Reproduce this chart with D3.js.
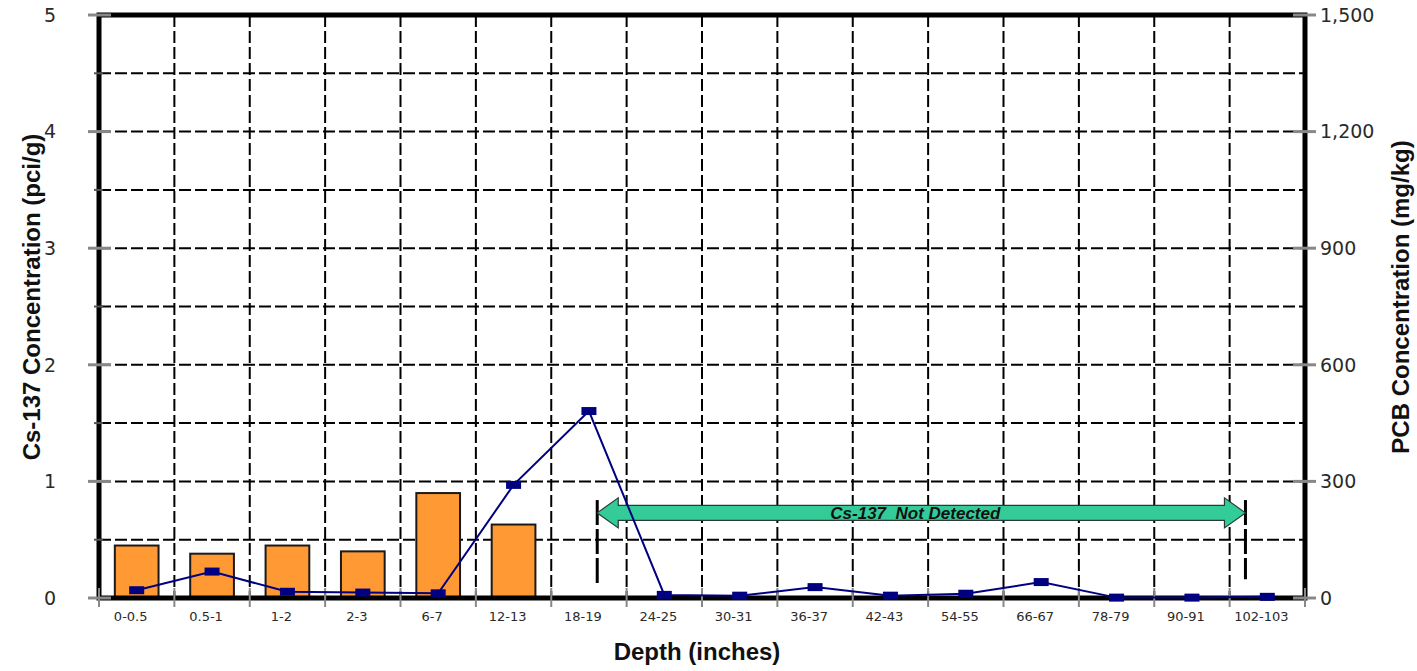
<!DOCTYPE html>
<html>
<head>
<meta charset="utf-8">
<script src="https://cdn.jsdelivr.net/npm/d3@7"></script>
<style>
  body { margin: 0; background: #fff; }
  svg { display: block; }
</style>
</head>
<body>
<svg id="chart" width="1417" height="671"></svg>
<script>
"use strict";

// depth intervals along the x axis
var depths = ["0-0.5", "0.5-1", "1-2", "2-3", "6-7", "12-13", "18-19", "24-25",
              "30-31", "36-37", "42-43", "54-55", "66-67", "78-79", "90-91", "102-103"];

// Cs-137 (pci/g), only measured down to 12-13
var cs137 = [0.45, 0.38, 0.45, 0.40, 0.90, 0.63];

// PCB (mg/kg), right axis
var pcb = [20, 68, 16, 14, 12, 291, 481, 8, 6, 28, 6, 11, 41, 1, 1, 3];

var leftTicks = [0, 1, 2, 3, 4, 5];
var rightTicks = [0, 300, 600, 900, 1200, 1500];

// "not detected" annotation, in category units (0 = left edge, 16 = right edge)
var ndStart = 6.61, ndEnd = 15.21, ndLevel = 0.73;
var ndLabel = "Cs-137  Not Detected";

var svg = d3.select("#chart");
var margin = {top: 15, right: 112, bottom: 73, left: 99};
var width = 1417 - margin.left - margin.right;
var height = 671 - margin.top - margin.bottom;

var g = svg.append("g").attr("transform", "translate(" + margin.left + "," + margin.top + ")");

var x = d3.scaleBand().domain(depths).range([0, width]).padding(0);
// bars centred in each category
var xBar = d3.scaleBand().domain(depths).range([0, width]).paddingInner(0.42).paddingOuter(0.21);
var xPos = d3.scaleLinear().domain([0, depths.length]).range([0, width]);
var yL = d3.scaleLinear().domain([0, 5]).range([height, 0]);
var yR = d3.scaleLinear().domain([0, 1500]).range([height, 0]);

// dashed grid
var hGrid = d3.range(0.5, 5, 0.5);
g.selectAll(".hgrid").data(hGrid).enter().append("line")
    .attr("x1", 0).attr("x2", width)
    .attr("y1", d => yL(d)).attr("y2", d => yL(d))
    .attr("stroke", "#000").attr("stroke-width", 2)
    .attr("stroke-dasharray", "12,4");

var vGrid = d3.range(1, depths.length);
g.selectAll(".vgrid").data(vGrid).enter().append("line")
    .attr("x1", d => xPos(d)).attr("x2", d => xPos(d))
    .attr("y1", 0).attr("y2", height)
    .attr("stroke", "#000").attr("stroke-width", 2)
    .attr("stroke-dasharray", "12,4");

// Cs-137 bars
g.selectAll(".bar").data(cs137).enter().append("rect")
    .attr("x", (d, i) => xBar(depths[i]))
    .attr("y", d => yL(d))
    .attr("width", xBar.bandwidth())
    .attr("height", d => height - yL(d))
    .attr("fill", "#FF9933")
    .attr("stroke", "#1a1a1a")
    .attr("stroke-width", 2);

// frame
g.append("rect")
    .attr("x", 0).attr("y", 0).attr("width", width).attr("height", height)
    .attr("fill", "none").attr("stroke", "#000").attr("stroke-width", 5);

// left ticks
g.selectAll(".ltick").data(leftTicks).enter().append("line")
    .attr("x1", -11).attr("x2", 12)
    .attr("y1", d => yL(d)).attr("y2", d => yL(d))
    .attr("stroke", "#888").attr("stroke-width", 3);
g.selectAll(".lminor").data(d3.range(0.5, 5, 1)).enter().append("line")
    .attr("x1", -5).attr("x2", 4)
    .attr("y1", d => yL(d)).attr("y2", d => yL(d))
    .attr("stroke", "#555").attr("stroke-width", 2);
g.selectAll(".llabel").data(leftTicks).enter().append("text")
    .attr("x", -43).attr("y", d => yL(d))
    .attr("dy", "0.36em")
    .attr("text-anchor", "end")
    .attr("font-family", "DejaVu Sans")
    .attr("font-size", 19)
    .attr("fill", "#2a2a2a")
    .text(d => d);

// right ticks
g.selectAll(".rtick").data(rightTicks).enter().append("line")
    .attr("x1", width - 12).attr("x2", width + 11)
    .attr("y1", d => yR(d)).attr("y2", d => yR(d))
    .attr("stroke", "#888").attr("stroke-width", 3);
g.selectAll(".rlabel").data(rightTicks).enter().append("text")
    .attr("x", width + 15).attr("y", d => yR(d))
    .attr("dy", "0.36em")
    .attr("font-family", "DejaVu Sans")
    .attr("font-size", 19)
    .attr("fill", "#2a2a2a")
    .text(d => d3.format(",")(d));

// x ticks at category boundaries
g.selectAll(".xtick").data(d3.range(0, depths.length + 1)).enter().append("line")
    .attr("x1", d => xPos(d)).attr("x2", d => xPos(d))
    .attr("y1", height - 10).attr("y2", height + 9)
    .attr("stroke", "#888").attr("stroke-width", 2);
g.selectAll(".xlabel").data(depths).enter().append("text")
    .attr("x", d => x(d) + x.bandwidth() / 2 - 6)
    .attr("y", height + 23)
    .attr("text-anchor", "middle")
    .attr("font-family", "DejaVu Sans")
    .attr("font-size", 13)
    .attr("fill", "#2a2a2a")
    .text(d => d);

// not-detected markers and arrow
[[ndStart, 0.84, 0.11], [ndEnd, 0.84, 0.16]].forEach(function(m) {
    g.append("line")
        .attr("x1", xPos(m[0])).attr("x2", xPos(m[0]))
        .attr("y1", yL(m[1])).attr("y2", yL(m[2]))
        .attr("stroke", "#000").attr("stroke-width", 3)
        .attr("stroke-dasharray", "25,4");
});

var ax0 = xPos(ndStart), ax1 = xPos(ndEnd), ay = yL(ndLevel);
var sh = 7.5, hh = 15, hl = 21;
var arrow = d3.path();
arrow.moveTo(ax0, ay);
arrow.lineTo(ax0 + hl, ay - hh);
arrow.lineTo(ax0 + hl, ay - sh);
arrow.lineTo(ax1 - hl, ay - sh);
arrow.lineTo(ax1 - hl, ay - hh);
arrow.lineTo(ax1, ay);
arrow.lineTo(ax1 - hl, ay + hh);
arrow.lineTo(ax1 - hl, ay + sh);
arrow.lineTo(ax0 + hl, ay + sh);
arrow.lineTo(ax0 + hl, ay + hh);
arrow.closePath();
g.append("path")
    .attr("d", arrow.toString())
    .attr("fill", "#33CC99")
    .attr("stroke", "#2a3a33")
    .attr("stroke-width", 1.2);
g.append("text")
    .attr("x", (ax0 + ax1) / 2 - 6).attr("y", ay)
    .attr("dy", "0.36em")
    .attr("text-anchor", "middle")
    .attr("font-family", "Liberation Sans, Arial, sans-serif")
    .attr("font-weight", "bold")
    .attr("font-style", "italic")
    .attr("font-size", 17)
    .attr("fill", "#111")
    .style("white-space", "pre")
    .text(ndLabel);

// PCB line
var line = d3.line()
    .x((d, i) => x(depths[i]) + x.bandwidth() / 2)
    .y(d => yR(d));
g.append("path")
    .datum(pcb)
    .attr("d", line)
    .attr("fill", "none")
    .attr("stroke", "#000080")
    .attr("stroke-width", 2);
g.selectAll(".mark").data(pcb).enter().append("rect")
    .attr("x", (d, i) => x(depths[i]) + x.bandwidth() / 2 - 7.5)
    .attr("y", d => yR(d) - 4)
    .attr("width", 15).attr("height", 8)
    .attr("fill", "#000080");

// axis titles
svg.append("text")
    .attr("x", margin.left + width / 2 - 5)
    .attr("y", 660)
    .attr("text-anchor", "middle")
    .attr("font-family", "Liberation Sans, Arial, sans-serif")
    .attr("font-weight", "bold")
    .attr("font-size", 24)
    .attr("fill", "#111")
    .text("Depth (inches)");

svg.append("text")
    .attr("transform", "translate(40,297) rotate(-90)")
    .attr("text-anchor", "middle")
    .attr("font-family", "Liberation Sans, Arial, sans-serif")
    .attr("font-weight", "bold")
    .attr("font-size", 24)
    .attr("fill", "#111")
    .text("Cs-137 Concentration (pci/g)");

svg.append("text")
    .attr("transform", "translate(1409,297) rotate(-90)")
    .attr("text-anchor", "middle")
    .attr("font-family", "Liberation Sans, Arial, sans-serif")
    .attr("font-weight", "bold")
    .attr("font-size", 24)
    .attr("fill", "#111")
    .text("PCB Concentration (mg/kg)");
</script>
</body>
</html>
